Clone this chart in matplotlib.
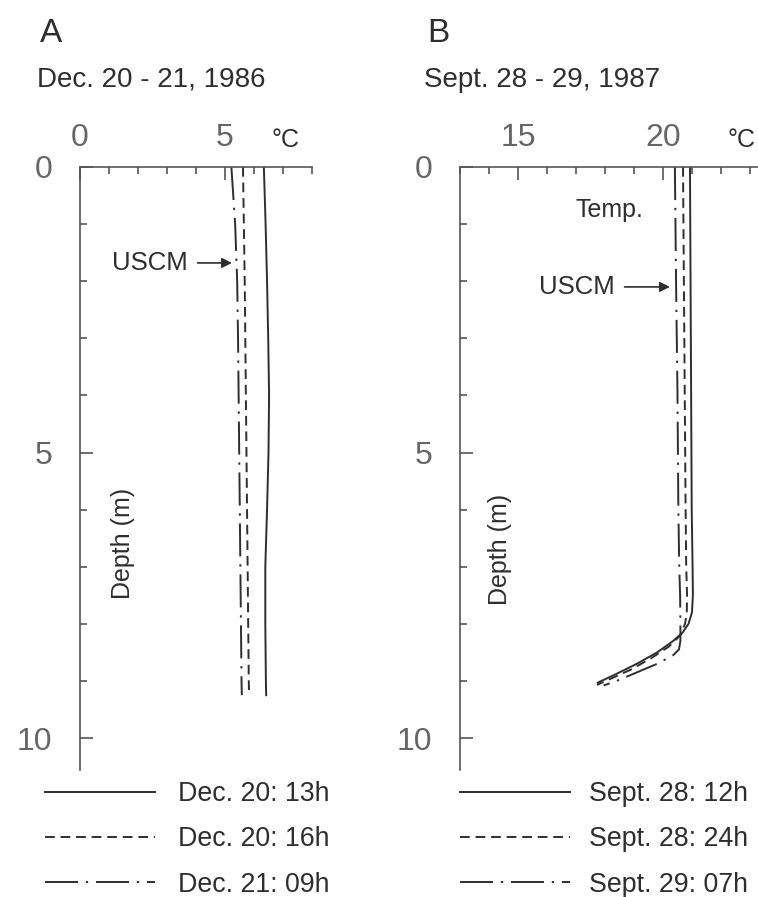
import numpy as np
import matplotlib
matplotlib.use("Agg")
import matplotlib.pyplot as plt
from matplotlib.ticker import MultipleLocator, FixedLocator

plt.rcParams['font.family'] = ['Liberation Sans', 'DejaVu Sans']

# --- panel A: Dec. 20 - 21, 1986 (depth in m, temp in degC)
depth_a = [0, 1, 2, 3, 4, 5, 6, 7, 8, 9, 9.25]
dec20_13h = [6.34, 6.40, 6.45, 6.49, 6.52, 6.50, 6.45, 6.39, 6.39, 6.41, 6.42]
dec20_16h = [5.62, 5.65, 5.68, 5.70, 5.72, 5.74, 5.76, 5.78, 5.80, 5.82, 5.83]
dec21_09h = [5.22, 5.35, 5.42, 5.45, 5.47, 5.49, 5.51, 5.53, 5.55, 5.57, 5.58]
labels_a = ['Dec. 20: 13h', 'Dec. 20: 16h', 'Dec. 21: 09h']

# --- panel B: Sept. 28 - 29, 1987
depth_b12 = [0, 2, 4, 6, 7.0, 7.5, 7.8, 8.0, 8.15, 8.3, 8.5, 8.7, 8.9, 9.03]
sept28_12h = [20.93, 20.95, 20.97, 20.99, 21.02, 21.03, 21.0, 20.88, 20.68, 20.35, 19.8, 19.1, 18.3, 17.75]
depth_b24 = [0, 2, 4, 6, 7.0, 7.5, 7.8, 8.0, 8.2, 8.4, 8.6, 8.8, 8.95, 9.07]
sept28_24h = [20.69, 20.72, 20.75, 20.78, 20.8, 20.83, 20.82, 20.76, 20.6, 20.2, 19.6, 18.9, 18.25, 17.72]
depth_b07 = [0, 2, 4, 6, 7.0, 7.5, 8.0, 8.3, 8.45, 8.55, 8.7, 8.85, 9.0, 9.08]
sept29_07h = [20.41, 20.45, 20.5, 20.53, 20.56, 20.59, 20.6, 20.6, 20.55, 20.35, 19.8, 19.1, 18.4, 17.95]
labels_b = ['Sept. 28: 12h', 'Sept. 28: 24h', 'Sept. 29: 07h']

W, H = 758, 897
fig = plt.figure(figsize=(W / 100, H / 100), dpi=100)

ink = '#2e2e2e'
tickc = '#666666'
lw = 1.4
dashed = (5, 3)
dashdot = (17, 4, 1.2, 4)


def px(x, y):
    # pixel -> figure fraction
    return x / W, 1 - y / H


def setup(ax, xlim, xmajor):
    ax.set_xlim(*xlim)
    ax.set_ylim(10.56, 0)
    for s in ['right', 'bottom']:
        ax.spines[s].set_visible(False)
    for s in ['top', 'left']:
        ax.spines[s].set_color('#555555')
        ax.spines[s].set_linewidth(1.2)
    ax.xaxis.tick_top()
    ax.xaxis.set_major_locator(FixedLocator(xmajor))
    ax.xaxis.set_minor_locator(MultipleLocator(1))
    ax.yaxis.set_major_locator(FixedLocator([0, 5, 10]))
    ax.yaxis.set_minor_locator(MultipleLocator(1))
    ax.tick_params(which='both', direction='in', color='#555555', width=1.2)
    ax.tick_params(which='major', length=9)
    ax.tick_params(which='minor', length=5)
    ax.tick_params(axis='y', which='major', pad=20, labelsize=23, labelcolor=tickc)
    ax.tick_params(axis='x', which='major', pad=10, labelsize=23, labelcolor=tickc)
    ax.patch.set_alpha(0)


axA = fig.add_axes([80 / W, 1 - 770 / H, (312 - 80) / W, (770 - 167) / H])
setup(axA, (0, 8), [0, 5])
la1, = axA.plot(dec20_13h, depth_a, color=ink, lw=lw)
la2, = axA.plot(dec20_16h, depth_a, color=ink, lw=lw, dashes=dashed)
la3, = axA.plot(dec21_09h, depth_a, color=ink, lw=lw, dashes=dashdot)
axA.text(7.07, -0.47, '°C', fontsize=18, color=ink, ha='center', va='center')
axA.text(1.48, 6.6, 'Depth (m)', rotation=90, fontsize=18, color=ink, ha='center', va='center')
axA.annotate('USCM', xy=(5.24, 1.68), xytext=(3.72, 1.68), ha='right', va='center',
             fontsize=18.5, color=ink,
             arrowprops=dict(arrowstyle='-|>', color=ink, lw=1.2, shrinkA=5, shrinkB=0,
                             mutation_scale=15))
axA.legend([la1, la2, la3], labels_a, loc='upper left', bbox_to_anchor=px(45, 781),
           bbox_transform=fig.transFigure, frameon=False, borderpad=0, borderaxespad=0,
           fontsize=19.3, handlelength=4.1, handletextpad=0.87, labelspacing=0.72,
           labelcolor=ink)

axB = fig.add_axes([460 / W, 1 - 770 / H, (758 - 460) / W, (770 - 167) / H])
setup(axB, (13, 13 + 298 / 29), [15, 20])
lb1, = axB.plot(sept28_12h, depth_b12, color=ink, lw=lw)
lb2, = axB.plot(sept28_24h, depth_b24, color=ink, lw=lw, dashes=dashed)
lb3, = axB.plot(sept29_07h, depth_b07, color=ink, lw=lw, dashes=dashdot)
axB.text(22.7, -0.47, '°C', fontsize=18, color=ink, ha='center', va='center')
axB.text(14.38, 6.7, 'Depth (m)', rotation=90, fontsize=18, color=ink, ha='center', va='center')
axB.text(18.17, 0.75, 'Temp.', fontsize=18, color=ink, ha='center', va='center')
axB.annotate('USCM', xy=(20.24, 2.1), xytext=(18.34, 2.1), ha='right', va='center',
             fontsize=18.5, color=ink,
             arrowprops=dict(arrowstyle='-|>', color=ink, lw=1.2, shrinkA=5, shrinkB=0,
                             mutation_scale=15))
axB.legend([lb1, lb2, lb3], labels_b, loc='upper left', bbox_to_anchor=px(460, 781),
           bbox_transform=fig.transFigure, frameon=False, borderpad=0, borderaxespad=0,
           fontsize=19.3, handlelength=4.1, handletextpad=0.7, labelspacing=0.72,
           labelcolor=ink)

# panel headings
fig.text(*px(40, 34), 'A', fontsize=24, color=ink, ha='left', va='center')
fig.text(*px(37, 80), 'Dec. 20 - 21, 1986', fontsize=20, color=ink, ha='left', va='center')
fig.text(*px(427, 34), 'B', fontsize=24, color=ink, ha='left', va='center')
fig.text(*px(424, 80), 'Sept. 28 - 29, 1987', fontsize=20, color=ink, ha='left', va='center')

fig.savefig('out.png', dpi=100)
